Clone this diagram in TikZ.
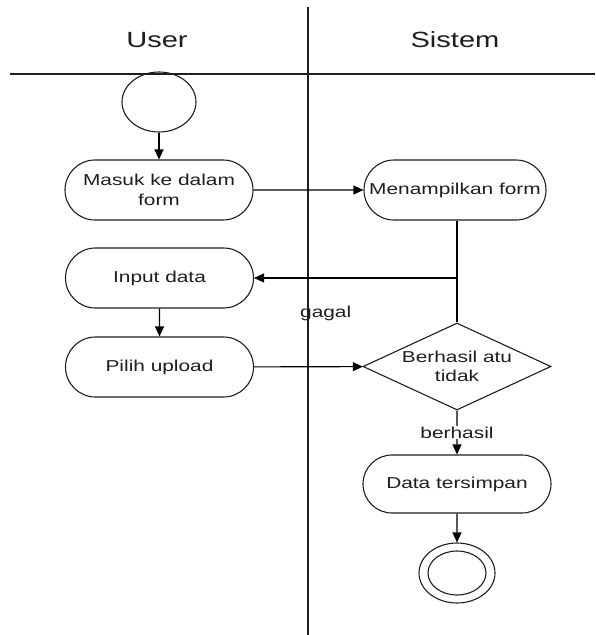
\documentclass[tikz,border=0pt]{standalone}
\usepackage{fontspec}
\setmainfont{Liberation Sans}[FakeStretch=1.32]
\usetikzlibrary{shapes.misc,shapes.geometric,arrows.meta}
\definecolor{ink}{HTML}{1E1E1E}
\begin{document}
\begin{tikzpicture}[x=1pt,y=-1pt,
  lane/.style={draw=ink, line width=2pt},
  head/.style={font=\fontsize{22}{26}\selectfont, text=ink, inner sep=0pt},
  act/.style={draw=ink, line width=1.1pt, rounded rectangle, minimum width=188pt,
    minimum height=60pt, inner sep=0pt, align=center,
    font=\fontsize{15.8}{19.5}\selectfont, text=ink},
  dec/.style={draw=ink, line width=1.1pt, diamond, minimum width=188pt,
    minimum height=87pt, inner sep=0pt},
  lbl/.style={font=\fontsize{15.8}{19.5}\selectfont, text=ink, inner sep=1pt},
  conn/.style={draw=black, line width=1.1pt},
  arr/.style={conn, -{Triangle[length=10pt,width=9pt]}}
]
\useasboundingbox (0,0) rectangle (595,635);
% swimlanes
\coordinate (vtop) at (308,7);
\coordinate (vbot) at (308,635);
\coordinate (hl) at (10,74);
\coordinate (hr) at (595,74);
\draw[lane] (vtop) -- (vbot);
\draw[lane] (hl) -- (hr);
\node[head, anchor=base] (huser) at (157,47) {User};
\node[head, anchor=base] (hsis) at (455,47) {Sistem};
% nodes
\node[draw=ink, line width=1.1pt, ellipse, minimum width=74pt, minimum height=60pt, inner sep=0pt] (start) at (159,102) {};
\node[act] (masuk) at (159,190) {Masuk ke dalam\\form};
\node[act] (input) at (159.5,278) {Input data};
\node[act] (pilih) at (159.5,367) {Pilih upload};
\node[act, minimum width=182pt] (tampil) at (455,190) {Menampilkan form};
\node[dec, label={[lbl, align=center]center:Berhasil atu\\tidak}] (cek) at (457,366.5) {};
\node[act, minimum height=58pt] (simpan) at (457,484) {Data tersimpan};
\node[draw=ink, line width=1.1pt, ellipse, minimum width=76pt, minimum height=60pt, inner sep=0pt] (end) at (457,573) {};
\draw[ink, line width=1.1pt] (end.center) ellipse [x radius=29pt, y radius=22pt];
\node[lbl, anchor=west] (gagal) at (299,313) {gagal};
% connectors
\draw[arr] (start) -- (masuk);
\draw[arr] (masuk) -- (tampil);
\draw[conn] (cek.north |- tampil.south) -- (cek.north);
\draw[arr] (cek.north) |- (input.east);
\draw[arr] (input) -- (pilih);
\draw[arr] (pilih) -- (cek);
\draw[arr] (cek) -- node[lbl, fill=white] (berh) {berhasil} (simpan);
\draw[arr] (simpan) -- (end);
\end{tikzpicture}
\end{document}
